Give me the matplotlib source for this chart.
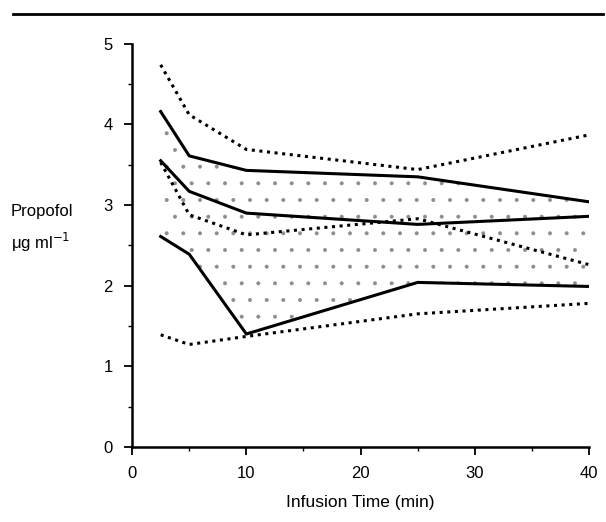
# propofol concentration bands vs infusion time

import matplotlib.pyplot as plt
from matplotlib.ticker import MultipleLocator

plt.rcParams['font.family'] = ['Liberation Sans', 'DejaVu Sans']
plt.rcParams['hatch.linewidth'] = 0.4

# infusion times (min)
times = [2.5, 5, 10, 25, 40]

# solid lines
upper_solid = [4.16, 3.61, 3.43, 3.35, 3.04]
median_solid = [3.55, 3.17, 2.90, 2.76, 2.86]
lower_solid = [2.61, 2.39, 1.40, 2.04, 1.99]

# dotted lines
upper_dotted = [4.74, 4.12, 3.69, 3.44, 3.87]
middle_dotted = [3.53, 2.88, 2.63, 2.83, 2.26]
lower_dotted = [1.39, 1.27, 1.37, 1.65, 1.78]

xticks = [0, 10, 20, 30, 40]
yticks = [0, 1, 2, 3, 4, 5]


def main():
    fig = plt.figure(figsize=(6.06, 5.22), dpi=100)
    ax = fig.add_axes([0.218, 0.144, 0.754, 0.772])

    # stippled region between outer solid lines
    ax.fill_between(times, lower_solid, upper_solid, facecolor='none',
                    edgecolor='0.55', hatch='.', lw=0)

    dot = (0, (1, 1.5))
    for ys in [upper_dotted, middle_dotted, lower_dotted]:
        ax.plot(times, ys, color='black', lw=2.2, linestyle=dot)
    for ys in [upper_solid, median_solid, lower_solid]:
        ax.plot(times, ys, color='black', lw=2.2)

    ax.set_xlim(0, 40)
    ax.set_ylim(0, 5)
    ax.set_xticks(xticks)
    ax.set_yticks(yticks)
    ax.xaxis.set_minor_locator(MultipleLocator(5))
    ax.yaxis.set_minor_locator(MultipleLocator(0.5))
    ax.tick_params(which='major', direction='out', length=6, width=1.3,
                   labelsize=12, pad=8)
    ax.tick_params(which='minor', direction='out', length=3, width=1)
    for s in ['top', 'right']:
        ax.spines[s].set_visible(False)
    for s in ['left', 'bottom']:
        ax.spines[s].set_linewidth(1.8)

    ax.set_xlabel('Infusion Time (min)', fontsize=12.5, labelpad=10)
    fig.text(0.018, 0.594, 'Propofol', fontsize=12, va='center')
    fig.text(0.018, 0.536, 'μg ml$^{-1}$', fontsize=12, va='center')

    # rule across the top
    fig.add_artist(plt.Line2D([0.022, 0.995], [0.973, 0.973], color='black', lw=2))

    fig.savefig('out.png', dpi=100)


if __name__ == "__main__":
    main()
